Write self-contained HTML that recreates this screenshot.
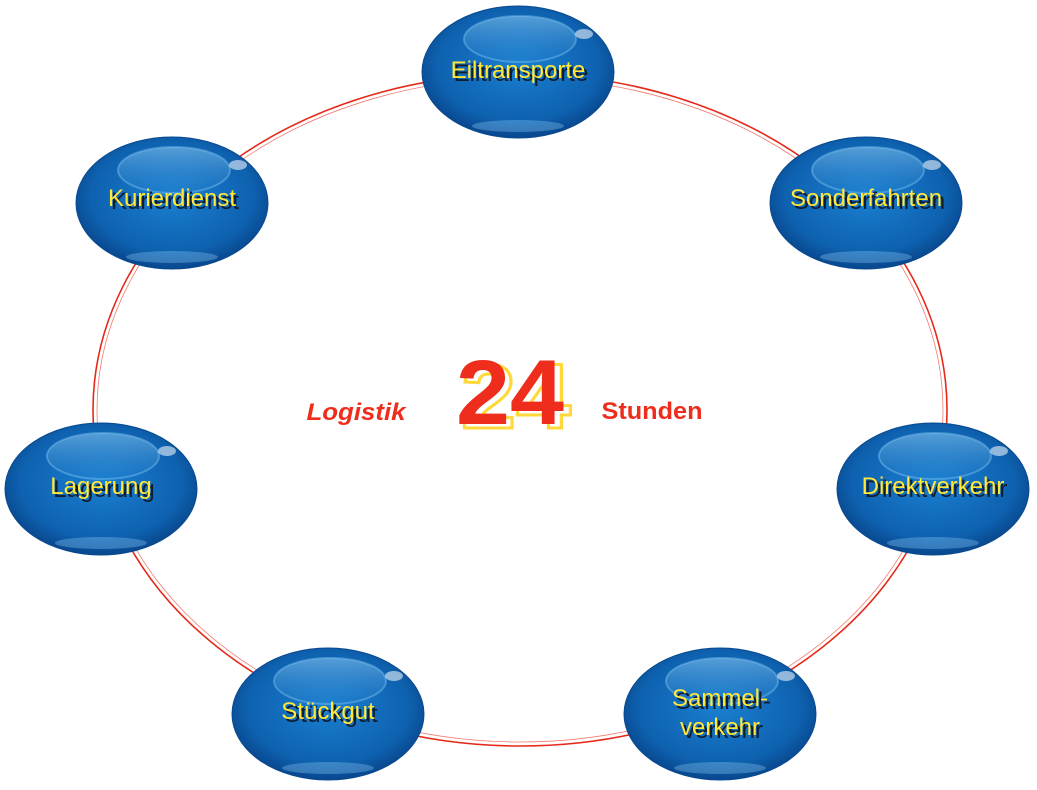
<!DOCTYPE html>
<html><head><meta charset="utf-8">
<style>
html,body{margin:0;padding:0;background:#fff;width:1037px;height:790px;overflow:hidden}
svg{display:block}
.lbl{font-family:"Liberation Sans",sans-serif;font-size:24px;fill:#ffe83a;text-anchor:middle}
.sh{font-family:"Liberation Sans",sans-serif;font-size:24px;fill:#101c30;text-anchor:middle}
</style></head><body>
<svg width="1037" height="790" viewBox="0 0 1037 790" xmlns="http://www.w3.org/2000/svg">
<defs>
<radialGradient id="g" cx="50%" cy="45%" r="60%">
<stop offset="0" stop-color="#1a7fd0"/>
<stop offset="0.7" stop-color="#0e62b0"/>
<stop offset="1" stop-color="#063c80"/>
</radialGradient>
<linearGradient id="hl" x1="0" y1="0" x2="0" y2="1">
<stop offset="0" stop-color="#8fcdf5" stop-opacity="0.55"/>
<stop offset="1" stop-color="#4fa0e0" stop-opacity="0.05"/>
</linearGradient>
<g id="b">
<ellipse cx="0" cy="0" rx="96" ry="66" fill="url(#g)" stroke="#0a4a90" stroke-width="1"/>
<ellipse cx="2" cy="-33" rx="56" ry="23" fill="url(#hl)" stroke="#7cc0f0" stroke-opacity="0.45" stroke-width="2"/>
<ellipse cx="0" cy="54" rx="46" ry="6" fill="#8ccaf5" opacity="0.35"/>
<ellipse cx="66" cy="-38" rx="9" ry="5" fill="#fff" opacity="0.55"/>
</g>
</defs>
<ellipse cx="520" cy="410" rx="427" ry="336" fill="none" stroke="#e52a1a" stroke-width="1.6"/>
<ellipse cx="520" cy="410" rx="423" ry="332" fill="none" stroke="#f07a70" stroke-width="0.8"/>

<use href="#b" x="518" y="72"/>
<use href="#b" x="172" y="203"/>
<use href="#b" x="866" y="203"/>
<use href="#b" x="101" y="489"/>
<use href="#b" x="933" y="489"/>
<use href="#b" x="328" y="714"/>
<use href="#b" x="720" y="714"/>

<g>
<text class="sh" x="521" y="81">Eiltransporte</text><text class="lbl" x="518" y="78">Eiltransporte</text>
<text class="sh" x="175" y="209">Kurierdienst</text><text class="lbl" x="172" y="206">Kurierdienst</text>
<text class="sh" x="869" y="209">Sonderfahrten</text><text class="lbl" x="866" y="206">Sonderfahrten</text>
<text class="sh" x="104" y="497">Lagerung</text><text class="lbl" x="101" y="494">Lagerung</text>
<text class="sh" x="936" y="497">Direktverkehr</text><text class="lbl" x="933" y="494">Direktverkehr</text>
<text class="sh" x="331" y="722">Stückgut</text><text class="lbl" x="328" y="719">Stückgut</text>
<text class="sh" x="723" y="709">Sammel-</text><text class="lbl" x="720" y="706">Sammel-</text>
<text class="sh" x="723" y="738">verkehr</text><text class="lbl" x="720" y="735">verkehr</text>
</g>

<text x="356" y="420" font-family="Liberation Sans,sans-serif" font-size="24" font-weight="bold" font-style="italic" fill="#ee2d1c" text-anchor="middle" textLength="99" lengthAdjust="spacingAndGlyphs">Logistik</text>
<text x="652" y="419" font-family="Liberation Sans,sans-serif" font-size="24" font-weight="bold" fill="#ee2d1c" text-anchor="middle" textLength="101" lengthAdjust="spacingAndGlyphs">Stunden</text>
<text x="516" y="428" font-family="Liberation Sans,sans-serif" font-size="92" font-weight="bold" fill="none" stroke="#ffd83a" stroke-width="3" text-anchor="middle" textLength="110" lengthAdjust="spacingAndGlyphs">24</text>
<text x="510" y="424" font-family="Liberation Sans,sans-serif" font-size="92" font-weight="bold" fill="#ee2d1c" text-anchor="middle" textLength="108" lengthAdjust="spacingAndGlyphs">24</text>
</svg>
</body></html>
